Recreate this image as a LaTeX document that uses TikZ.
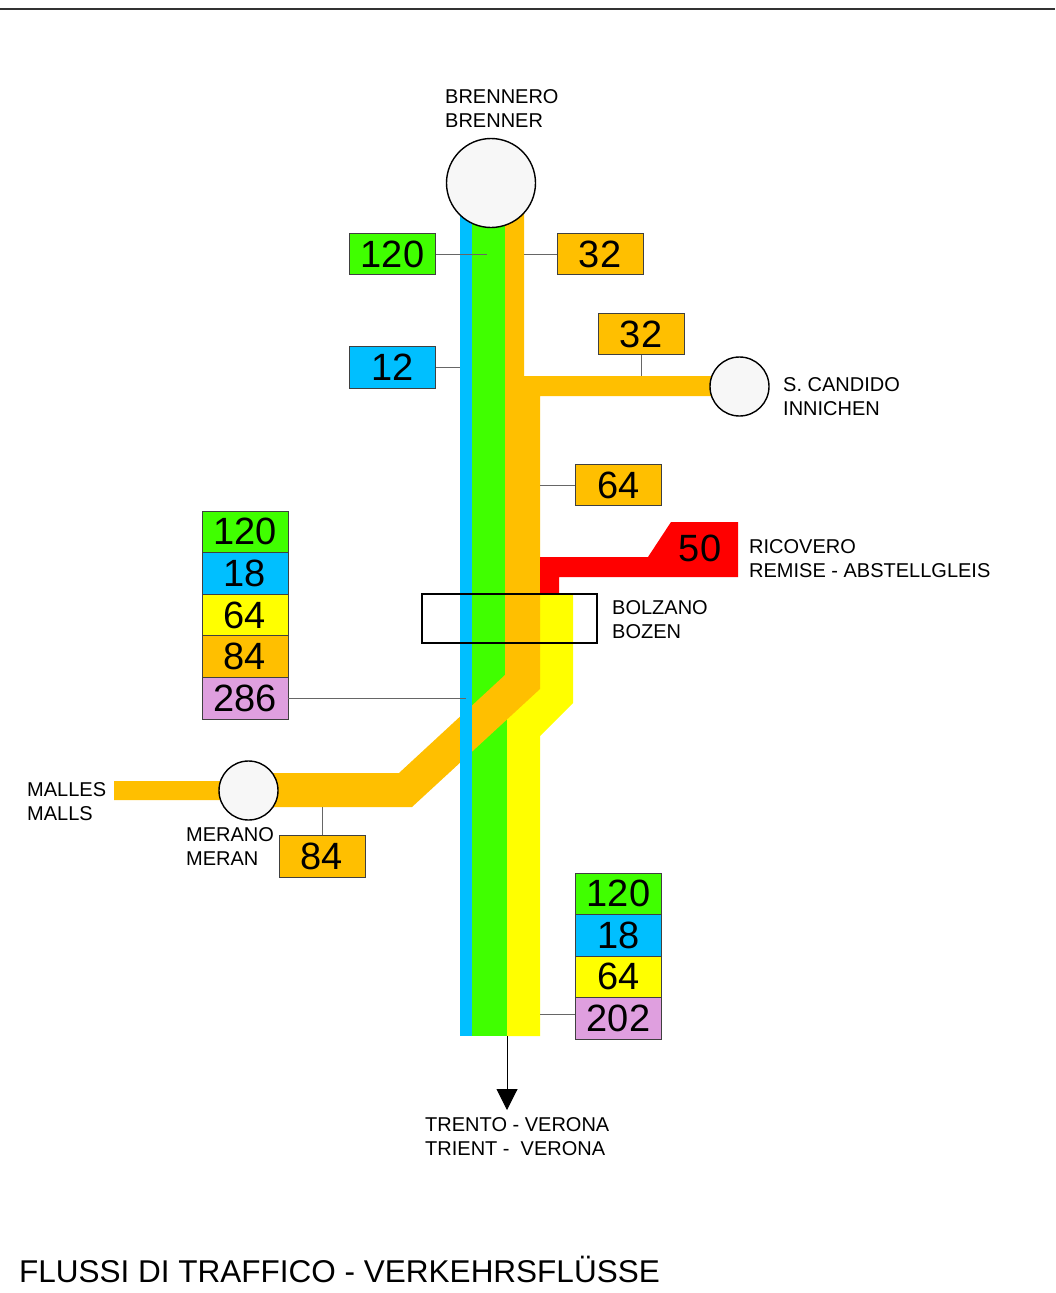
\documentclass[tikz,border=0pt]{standalone}
\usepackage{fontspec}
\setmainfont{Liberation Sans}
\usetikzlibrary{arrows.meta}
\usetikzlibrary{calc}

\definecolor{flowgreen}{HTML}{40FF00}
\definecolor{flowblue}{HTML}{00BFFF}
\definecolor{floworange}{HTML}{FFBF00}
\definecolor{flowyellow}{HTML}{FFFF00}
\definecolor{flowred}{HTML}{FF0000}
\definecolor{flowpurple}{HTML}{DF9FDF}

\begin{document}
\begin{tikzpicture}[x=1pt, y=-1pt,
	flowbox/.style={draw=black!75, line width=0.8pt, minimum width=86pt, minimum height=41.6pt, inner sep=0pt, font=\fontsize{38}{40}\selectfont},
	leader/.style={draw=black!60, line width=1pt},
	station/.style={circle, draw=black, line width=1.4pt, fill=black!3, inner sep=0pt},
	place/.style={anchor=west, align=left, inner sep=0pt, font=\fontsize{20}{24}\selectfont}]

%\pgfmathsetmacro{\bw}{86}
\newcommand{\bandtop}{183}
\newcommand{\bandend}{1036}

	\useasboundingbox (0,0) rectangle (1055,1293);
	\draw[black!80, line width=2pt] (0,9) -- (1055,9);

	% flows
	\fill[flowgreen] (472,\bandtop) rectangle (507,\bandend);
	\fill[flowyellow] (540,593) -- (573,593) -- (573,703) -- (540,736) -- (540,\bandend)
		-- (507,\bandend) -- (507,700) -- (540,680) -- cycle;
	\fill[floworange] (505,\bandtop) -- (524,\bandtop) -- (524,376) -- (740,376) -- (740,396)
		-- (540,396) -- (540,689) -- (412,807) -- (248,807) -- (248,800) -- (114,800)
		-- (114,781) -- (248,781) -- (248,773) -- (399,773) -- (505,675) -- cycle;
	\fill[flowred] (540,557) -- (648,557) -- (671,522) -- (738,522) -- (738,577)
		-- (559,577) -- (559,593) -- (540,593) -- cycle;
	\fill[flowblue] (460,\bandtop) rectangle (472,\bandend);

	\draw[line width=2pt] (422,594) rectangle (597,643);

	% stations
	\node[station, minimum size=89pt] (brenner) at (491,183) {};
	\node[station, minimum size=59pt] (candido) at (739.5,386.5) {};
	\node[station, minimum size=59pt] (meran) at (248.5,790.5) {};

	\node[place] (brennerlbl) at (445,109) {BRENNERO\\BRENNER};
	\node[place] (candidolbl) at (783,397) {S. CANDIDO\\INNICHEN};
	\node[place] (remiselbl) at (749,558.5) {RICOVERO\\REMISE - ABSTELLGLEIS};
	\node[place] (bozenlbl) at (612,620) {BOLZANO\\BOZEN};
	\node[place] (mallslbl) at (27,802) {MALLES\\MALLS};
	\node[place] (meranlbl) at (186,847) {MERANO\\MERAN};
	\node[place] (veronalbl) at (425,1137) {TRENTO - VERONA\\TRIENT - \ VERONA};

	% values
	\node[flowbox, fill=flowgreen] (g120) at (392.5,254) {120};
	\node[flowbox, fill=floworange] (o32a) at (600,254) {32};
	\node[flowbox, fill=floworange] (o32b) at (641,334) {32};
	\node[flowbox, fill=flowblue] (b12) at (392.5,367.5) {12};
	\node[flowbox, fill=floworange] (o64) at (618.5,485) {64};
	\node[inner sep=0pt, font=\fontsize{38}{40}\selectfont] (r50) at (700,548) {50};
	\node[flowbox, fill=floworange] (o84) at (322,856.5) {84};

	\node[flowbox, fill=flowgreen] (lg) at (245,531.8) {120};
	\node[flowbox, fill=flowblue] (lb) at (245,573.4) {18};
	\node[flowbox, fill=flowyellow] (ly) at (245,615) {64};
	\node[flowbox, fill=floworange] (lo) at (245,656.6) {84};
	\node[flowbox, fill=flowpurple] (lp) at (245,698.2) {286};

	\node[flowbox, fill=flowgreen] (rg) at (618.5,893.75) {120};
	\node[flowbox, fill=flowblue] (rb) at (618.5,935.25) {18};
	\node[flowbox, fill=flowyellow] (ry) at (618.5,976.75) {64};
	\node[flowbox, fill=flowpurple] (rp) at (618.5,1018.25) {202};

	% leaders
	\coordinate (g120end) at (487,254);
	\coordinate (o32aend) at (524,254);
	\coordinate (o32bend) at (641,376);
	\coordinate (b12end) at (460,367.5);
	\coordinate (o64end) at (540,485);
	\coordinate (lpend) at (466,698.2);
	\coordinate (o84end) at (322,807);
	\coordinate (rpend) at (540,1014);

	\draw[leader] (g120.east) -- (g120end);
	\draw[leader] (o32a.west) -- (o32aend);
	\draw[leader] (o32b.south) -- (o32bend);
	\draw[leader] (b12.east) -- (b12end);
	\draw[leader] (o64.west) -- (o64end);
	\draw[leader] (lp.east) -- (lpend);
	\draw[leader] (o84.north) -- (o84end);
	\draw[leader] (rpend) -- (rpend -| rp.west);

	\coordinate (south) at (507,\bandend);
	\coordinate (southend) at (507,1110);
	\draw[line width=1pt, -{Triangle[width=21pt,length=21pt]}] (south) -- (southend);

	\node[anchor=base west, inner sep=0pt, font=\fontsize{31.5}{36}\selectfont] (title) at (19,1282) {FLUSSI DI TRAFFICO - VERKEHRSFLÜSSE};
\end{tikzpicture}
\end{document}
